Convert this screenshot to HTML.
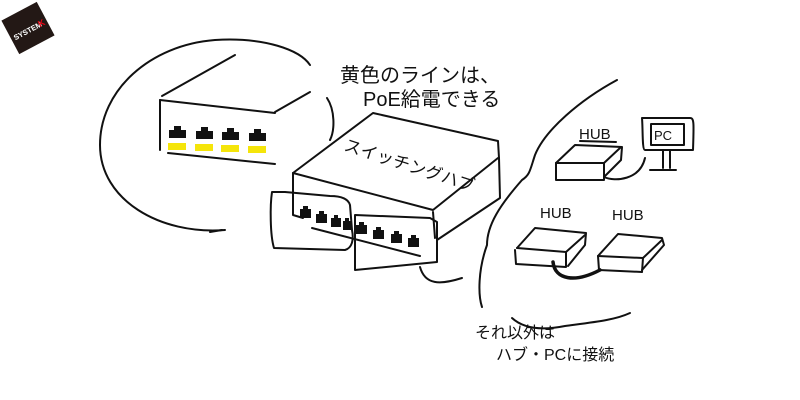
<!DOCTYPE html>
<html><head><meta charset="utf-8"><style>
html,body{margin:0;padding:0;background:#fff;width:800px;height:400px;overflow:hidden}
svg{display:block}
text{font-family:"Liberation Sans","Noto Sans CJK JP",sans-serif;fill:#111}
</style></head><body>
<svg width="800" height="400" viewBox="0 0 800 400" xmlns="http://www.w3.org/2000/svg">
<g transform="rotate(-28 28 28)">
<rect x="8" y="9" width="40" height="38" fill="#231815"/>
<text x="11" y="33" font-size="7.5" font-weight="bold" style="fill:#fff">SYSTEM</text>
<text x="39" y="33" font-size="9" font-weight="bold" style="fill:#e60012">K</text>
</g>
<g fill="none" stroke="#111" stroke-width="2" stroke-linecap="round" stroke-linejoin="round">
<path d="M225 230 C160 235 100 200 100 145 C100 90 150 45 215 40 C265 37 300 50 310 65"/>
<path d="M327 98 C335 110 335 130 330 140"/>
<path d="M210 232 L222 230"/>
<path d="M162 96 L235 55"/>
<path d="M275 112 L310 92"/>
<path d="M160 100 L275 113"/>
<path d="M160 100 L160 150"/>
<path d="M168 153 L275 164"/>
<path d="M293 173 L373 113 L498 141 L499 158"/>
<path d="M293 173 L433 210 L498 158"/>
<path d="M293 173 L293 215 L303 218"/>
<path d="M499 158 L500 198 L437 240"/>
<path d="M433 212 L435 238"/>
<path d="M272 192 C270 205 270 235 274 248 L345 250 C352 248 354 240 352 230 L350 205 C348 198 340 196 330 196 L285 192 Z"/>
<path d="M355 215 L430 218 L437 222 L437 262 L355 270 Z"/>
<path d="M312 228 L420 256"/>
<path d="M420 267 C425 285 440 285 462 278"/>
<path d="M617 80 C580 100 545 130 535 155 C530 170 530 175 522 180 C500 205 487 225 487 245 C478 270 478 295 482 307"/>
<path d="M512 318 C525 330 545 330 565 326 C595 322 615 320 630 313"/>
<path d="M556 163 L575 145 L622 147 L621 160 L604 177"/>
<path d="M556 163 L604 163 L620 148"/>
<path d="M556 163 L556 180 L604 180 L604 163"/>
<path d="M580 141 L616 142"/>
<path d="M604 177 C615 182 640 180 645 158"/>
<path d="M642 118 L690 118 C694 118 694 122 693 150 L645 150 C642 150 643 130 642 118 Z"/>
<path d="M651 124 L684 124 L684 145 L651 145 Z"/>
<path d="M663 150 L663 168 M670 150 L670 168 M650 170 L676 170"/>
<path d="M517 248 L535 228 L586 233 L585 245 L568 266"/>
<path d="M517 248 L566 252 L585 235"/>
<path d="M515 250 L516 264 L566 267 L566 252"/>
<path d="M598 256 L618 234 L662 238 L664 245 L642 270"/>
<path d="M598 256 L643 258 L662 240"/>
<path d="M598 256 L599 270 L642 272 L643 258"/>
<path d="M553 262 C555 280 575 283 600 270" stroke-width="3.5"/>
</g>
<g fill="#111">
<rect x="169" y="130" width="17" height="8"/><rect x="174" y="126" width="7" height="4"/>
<rect x="196" y="131" width="17" height="8"/><rect x="201" y="127" width="7" height="4"/>
<rect x="222" y="132" width="17" height="8"/><rect x="227" y="128" width="7" height="4"/>
<rect x="249" y="133" width="17" height="8"/><rect x="254" y="129" width="7" height="4"/>
</g>
<g fill="#f5e50a">
<rect x="168" y="143" width="18" height="7"/>
<rect x="195" y="144" width="18" height="7"/>
<rect x="221" y="145" width="18" height="7"/>
<rect x="248" y="146" width="18" height="7"/>
</g>
<g fill="#111">
<rect x="300" y="209" width="11" height="9"/><rect x="303" y="206" width="5" height="3"/>
<rect x="316" y="214" width="11" height="9"/><rect x="319" y="211" width="5" height="3"/>
<rect x="331" y="218" width="10" height="9"/><rect x="334" y="215" width="4" height="3"/>
<rect x="343" y="221" width="9" height="9"/><rect x="345" y="218" width="4" height="3"/>
<rect x="356" y="225" width="11" height="9"/><rect x="359" y="222" width="5" height="3"/>
<rect x="373" y="230" width="11" height="9"/><rect x="376" y="227" width="5" height="3"/>
<rect x="391" y="234" width="11" height="9"/><rect x="394" y="231" width="5" height="3"/>
<rect x="408" y="238" width="11" height="9"/><rect x="411" y="235" width="5" height="3"/>
</g>
<text x="340" y="82" font-size="20">黄色のラインは、</text>
<text x="363" y="106" font-size="20">PoE給電できる</text>
<text x="0" y="0" font-size="17" transform="translate(343 150) rotate(18)">スイッチングハブ</text>
<text x="579" y="139" font-size="15">HUB</text>
<text x="654" y="140" font-size="13">PC</text>
<text x="540" y="218" font-size="15">HUB</text>
<text x="612" y="220" font-size="15">HUB</text>
<text x="475" y="338" font-size="16">それ以外は</text>
<text x="496" y="360" font-size="16">ハブ・PCに接続</text>
</svg>
</body></html>
